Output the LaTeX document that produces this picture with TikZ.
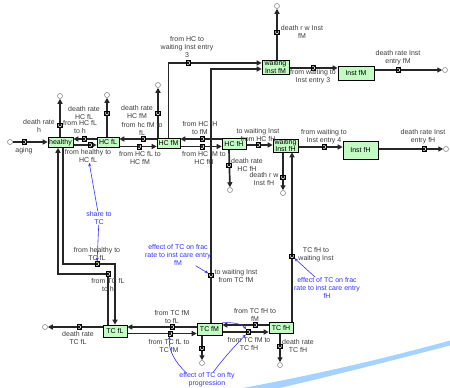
\documentclass[tikz,border=0pt]{standalone}
\usepackage{fontspec}
\setmainfont{Liberation Sans}
\usetikzlibrary{arrows.meta,backgrounds,calc}
\definecolor{stockfill}{RGB}{195,252,195}
\definecolor{inflc}{RGB}{51,51,255}
\definecolor{swooshc}{RGB}{165,210,255}
\definecolor{lblc}{RGB}{60,60,60}
\begin{document}
\begin{tikzpicture}[x=1pt,y=-1pt,
 every node/.style={font=\fontsize{7}{8}\selectfont},
 stock/.style={draw=black,line width=0.6pt,fill=stockfill,inner sep=0pt,align=center},
 twoline/.style={font=\fontsize{7}{6.2}\selectfont},
 valve/.style={draw=black,line width=0.5pt,fill=gray!30,minimum width=4pt,minimum height=5pt,inner sep=0pt,
   path picture={\draw[line width=0.6pt] (path picture bounding box.north west)--(path picture bounding box.south east) (path picture bounding box.north east)--(path picture bounding box.south west);}},
 vvalve/.style={valve,minimum width=5pt,minimum height=4pt},
 cloudy/.style={circle,draw=gray,fill=white,line width=0.5pt,minimum size=5pt,inner sep=0pt},
 lab/.style={text=lblc,align=center,inner sep=0pt},
 blab/.style={text=inflc,align=center,inner sep=0pt},
 pipe/.style={line width=1.7pt,draw=black!85,-{Triangle[length=5pt,width=5pt]}},
 inf/.style={draw=inflc,line width=0.6pt,-{Stealth[length=3.5pt,width=3pt]}}]
\useasboundingbox (0,0) rectangle (450,388);
% stocks
\node[stock,minimum width=25pt,minimum height=10pt] (healthy) at (60.5,142.5) {healthy};
\node[stock,minimum width=22pt,minimum height=10pt] (HCfL) at (108,142) {HC fL};
\node[stock,minimum width=23pt,minimum height=10pt] (HCfM) at (168.5,143) {HC fM};
\node[stock,minimum width=24pt,minimum height=11pt] (HCfH) at (234,143.5) {HC fH};
\node[stock,twoline,minimum width=25pt,minimum height=13pt] (wIfH) at (285.5,145.5) {waiting\\Inst fH};
\node[stock,minimum width=35pt,minimum height=18pt] (IfH) at (360.5,150) {Inst fH};
\node[stock,twoline,minimum width=27pt,minimum height=14pt] (wIfM) at (275.5,67) {waiting\\Inst fM};
\node[stock,minimum width=36pt,minimum height=14pt] (IfM) at (356,73) {Inst fM};
\node[stock,minimum width=24pt,minimum height=12pt] (TCfL) at (115,331) {TC fL};
\node[stock,minimum width=25pt,minimum height=12pt] (TCfM) at (209.5,329) {TC fM};
\node[stock,minimum width=24pt,minimum height=11pt] (TCfH) at (281,327.5) {TC fH};
% clouds
\node[cloudy] (c1) at (10,142) {};
\node[cloudy] (c2) at (60,96) {};
\node[cloudy] (c3) at (107,95) {};
\node[cloudy] (c4) at (158,85) {};
\node[cloudy] (c5) at (277,6) {};
\node[cloudy] (c6) at (445,70) {};
\node[cloudy] (c7) at (230,190) {};
\node[cloudy] (c8) at (283,193) {};
\node[cloudy] (c9) at (446,149) {};
\node[cloudy] (c10) at (280,365) {};
\node[cloudy] (c11) at (202,363) {};
\node[cloudy] (c12) at (45,327) {};
% valves
\node[valve] (v1) at (24,142) {};
\node[vvalve] (v2) at (60,125) {};
\node[valve] (v3) at (84,139) {};
\node[valve] (v4) at (90,145) {};
\node[vvalve] (v5) at (107,113) {};
\node[valve] (v6) at (143,139) {};
\node[valve] (v7) at (139,146.5) {};
\node[vvalve] (v8) at (158,113) {};
\node[valve] (v9) at (188,63) {};
\node[vvalve] (v10) at (211,275) {};
\node[vvalve] (v11) at (277,32) {};
\node[valve] (v12) at (313,68) {};
\node[valve] (v13) at (398,70) {};
\node[valve] (v14) at (202,139) {};
\node[valve] (v15) at (202,146.5) {};
\node[valve] (v16) at (258,145) {};
\node[vvalve] (v17) at (229,165) {};
\node[vvalve] (v18) at (283,177) {};
\node[vvalve] (v19) at (292,256) {};
\node[valve] (v20) at (324,147) {};
\node[valve] (v21) at (424,149) {};
\node[valve] (v22) at (255,325) {};
\node[valve] (v23) at (248,332) {};
\node[vvalve] (v24) at (280,346) {};
\node[vvalve] (v25) at (202,348) {};
\node[valve] (v26) at (172,327) {};
\node[valve] (v27) at (170,333.5) {};
\node[valve] (v28) at (79,327) {};
\node[valve] (v29) at (97,264) {};
\node[valve] (v30) at (108,274) {};
% labels
\node[lab] (L1) at (24,151) {aging};
\node[lab] (L2) at (39,126) {death rate\\h};
\node[lab] (L3) at (80,127) {from HC fL\\to h};
\node[lab] (L4) at (88,156) {from healthy to\\HC fL};
\node[lab] (L5) at (84,113) {death rate\\HC fL};
\node[lab] (L6) at (142,129) {from hc fM to\\fL};
\node[lab] (L7) at (140,158) {from HC fL to\\HC fM};
\node[lab] (L8) at (137,112) {death rate\\HC fM};
\node[lab] (L9) at (187,47) {from HC to\\waiting Inst entry\\3};
\node[lab] (L10) at (236,276) {to waiting Inst\\from TC fM};
\node[lab] (L11) at (302,32) {death r w Inst\\fM};
\node[lab] (L12) at (313,77) {from waiting to\\Inst entry 3};
\node[lab] (L13) at (398,58) {death rate Inst\\entry fM};
\node[lab] (L14) at (200,128) {from HC fH\\to fM};
\node[lab] (L15) at (204,158) {from HC fM to\\HC fH};
\node[lab] (L16) at (258,135) {to waiting Inst\\from HC fH};
\node[lab] (L17) at (247,164.5) {death rate\\HC fH};
\node[lab] (L18) at (264,178.5) {death r w\\Inst fH};
\node[lab] (L19) at (316,255) {TC fH to\\waiting Inst};
\node[lab] (L20) at (324,137) {from waiting to\\Inst entry 4};
\node[lab] (L21) at (423,137) {death rate Inst\\entry fH};
\node[lab] (L22) at (255,315) {from TC fH to\\fM};
\node[lab] (L23) at (249,344) {from TC fM to\\TC fH};
\node[lab] (L24) at (298,346) {death rate\\TC fH};
\node[lab] (L25) at (172,317) {from TC fM\\to fL};
\node[lab] (L26) at (169,346) {from TC fL to\\TC fM};
\node[lab] (L27) at (78,338) {death rate\\TC fL};
\node[lab] (L28) at (97,254) {from healthy to\\TC fL};
\node[lab] (L29) at (108,285) {from TC fL\\to h};
\node[blab] (sh) at (99,218) {share to\\TC};
\node[blab] (effM) at (178,255) {effect of TC on frac\\rate to inst care entry\\fM};
\node[blab] (effH) at (327,288) {effect of TC on frac\\rate to inst care entry\\fH};
\node[blab] (fty) at (207,380) {effect of TC on fty\\progression};
% pipes
\begin{scope}[on background layer]
\fill[white] (0,0) rectangle (450,388);
\fill[swooshc] (232,390) .. controls (320,374) and (390,357) .. (452,340) -- (452,345) .. controls (390,361) and (320,379) .. (262,392) -- cycle;
\draw[pipe] (c1) -- (healthy.west |- v1);
\draw[pipe] (healthy.north -| v2) -- (c2);
\draw[pipe] (HCfL.west |- v3) -- (healthy.east |- v3);
\draw[pipe] (healthy.east |- v4) -- (HCfL.west |- v4);
\draw[pipe] (HCfL.north -| v5) -- (c3);
\draw[pipe] (HCfM.west |- v6) -- (HCfL.east |- v6);
\draw[pipe] (HCfL.east |- v7) -- (HCfM.west |- v7);
\draw[pipe] (HCfM.north -| v8) -- (c4);
\draw[pipe] (HCfM.north) |- (wIfM.west |- v9);
\draw[pipe] (TCfM.north -| v10) |- ($(wIfM.west)+(0,2)$);
\draw[pipe] (wIfM.north -| v11) -- (c5);
\draw[pipe] (wIfM.east |- v12) -- (IfM.west |- v12);
\draw[pipe] (IfM.east |- v13) -- (c6);
\draw[pipe] (HCfH.west |- v14) -- (HCfM.east |- v14);
\draw[pipe] (HCfM.east |- v15) -- (HCfH.west |- v15);
\draw[pipe] (HCfH.east |- v16) -- (wIfH.west |- v16);
\draw[pipe] (HCfH.south -| v17) -- (c7);
\draw[pipe] (wIfH.south -| v18) -- (c8);
\draw[pipe] (TCfH.north -| v19) -- (wIfH.south -| v19);
\draw[pipe] (wIfH.east |- v20) -- (IfH.west |- v20);
\draw[pipe] (IfH.east |- v21) -- (c9);
\draw[pipe] (TCfH.west |- v22) -- (TCfM.east |- v22);
\draw[pipe] (TCfM.east |- v23) -- (TCfH.west |- v23);
\draw[pipe] (TCfH.south -| v24) -- (c10);
\draw[pipe] (TCfM.south -| v25) -- (c11);
\draw[pipe] (TCfM.west |- v26) -- (TCfL.east |- v26);
\draw[pipe] (TCfL.east |- v27) -- (TCfM.west |- v27);
\draw[pipe] (TCfL.west |- v28) -- (c12);
\draw[pipe] ($(healthy.south)+(2.5,0)$) |- (v29.center) -| (TCfL.north);
\draw[pipe] ($(TCfL.north)+(-7,0)$) -- (v30.center) -| ($(healthy.south)+(-2.5,0)$);
\end{scope}
% influences
\draw[inf] (sh) -- (L4);
\draw[inf] (sh) -- (v29);
\draw[inf] (effM) -- (v10);
\draw[inf] (effH) -- (v19);
\draw[inf] ($(fty.north)+(-21,0)$) .. controls (175,362) and (168,350) .. (v27);
\draw[inf] ($(fty.north)+(6,0)$) .. controls (225,356) and (238,343) .. (v23);
\draw[inf] (TCfM.north east) .. controls (236,322) and (243,325) .. (v23);
\end{tikzpicture}
\end{document}
